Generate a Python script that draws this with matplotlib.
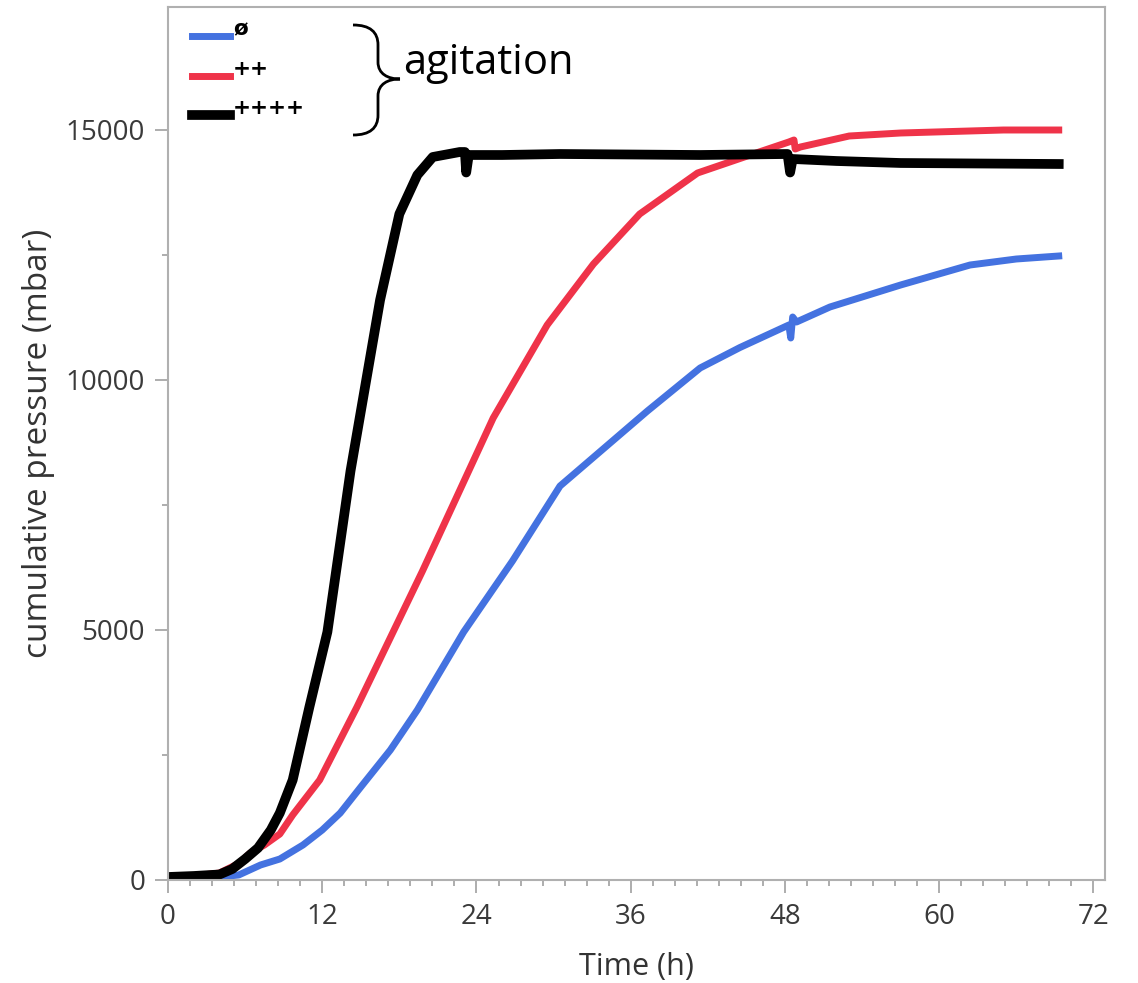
import numpy as np
import matplotlib
matplotlib.use('Agg')
import matplotlib.pyplot as plt
from matplotlib.path import Path
from matplotlib.patches import PathPatch
from matplotlib.transforms import Affine2D
from matplotlib.ticker import FixedLocator, MultipleLocator

# data (time in h, cumulative pressure in mbar)
t_none = [0, 2, 4, 5.5, 7.2, 8.7, 10.5, 12, 13.4, 15, 17.3, 19.4, 23, 26.8, 30.5,
          37.3, 41.4, 44.5, 48.3, 48.45, 48.6, 48.9, 51.5, 57, 62.4, 66, 69.3]
p_none = [50, 50, 60, 100, 300, 420, 700, 1000, 1340, 1860, 2600, 3400, 4960, 6380, 7880,
          9380, 10240, 10650, 11100, 10840, 11260, 11160, 11460, 11900, 12300, 12420, 12480]

t_2 = [0, 2, 4, 5.5, 6.4, 7.5, 8.7, 9.7, 11.8, 14.7, 19.8, 25.3, 29.5, 33.1, 36.7, 41.2, 45.3,
       48.3, 48.7, 48.8, 49.2, 53, 57, 61, 65, 69.3]
p_2 = [50, 80, 140, 330, 540, 700, 920, 1300, 2000, 3460, 6180, 9240, 11100, 12320, 13320, 14140, 14500,
       14760, 14800, 14620, 14660, 14880, 14940, 14970, 15000, 15000]

t_4 = [0, 2, 4, 5, 6, 7, 8, 8.7, 9.7, 11, 12.4, 14.2, 16.5, 18, 19.4, 20.6, 22.7,
       23.1, 23.2, 23.4, 26, 30.5, 36, 41.4, 48.2, 48.4, 48.6, 52, 57, 63, 69.3]
p_4 = [60, 80, 110, 220, 420, 640, 1000, 1340, 2000, 3460, 4960, 8180, 11600, 13320, 14100, 14460, 14560,
       14560, 14150, 14500, 14500, 14520, 14510, 14500, 14520, 14150, 14420, 14380, 14340, 14330, 14320]

labels = ['ø', '++', '++++']
colors = ['#4472e0', '#ef3349', '#000000']

W, H = 1138, 983
fig = plt.figure(figsize=(W / 100, H / 100), dpi=100)
ax = fig.add_axes([168 / W, 1 - 880 / H, (1105 - 168) / W, (880 - 7) / H])

ax.plot(t_none, p_none, color=colors[0], lw=5, solid_joinstyle='round', label=labels[0])
ax.plot(t_2, p_2, color=colors[1], lw=5, solid_joinstyle='round', label=labels[1])
ax.plot(t_4, p_4, color=colors[2], lw=7, solid_joinstyle='round', label=labels[2])

ax.set_xlim(0, 72.9)
ax.set_ylim(0, 17460)
ax.set_xticks([0, 12, 24, 36, 48, 60, 72])
ax.xaxis.set_minor_locator(FixedLocator(np.arange(0, 72.5, 12 / 7)))
ax.set_yticks([0, 5000, 10000, 15000])
ax.yaxis.set_minor_locator(MultipleLocator(2500))

tickfont = 'Open Sans'
for lab in ax.get_xticklabels() + ax.get_yticklabels():
    lab.set_family(tickfont)
ax.tick_params(which='major', length=9.5, width=1.2, color='#a0a0a0',
               labelsize=20, labelcolor='#3a3a3a', pad=7)
ax.tick_params(which='minor', length=4.5, width=1.2, color='#a0a0a0')
for s in ax.spines.values():
    s.set_color('#b0b0b0')
    s.set_linewidth(1.5)

ax.set_xlabel('Time (h)', fontsize=22, family=tickfont, color='#333333', labelpad=15)
ax.set_ylabel('cumulative pressure (mbar)', fontsize=24, family=tickfont, color='#333333', labelpad=8)

leg = ax.legend(loc='upper left', bbox_to_anchor=(0.005, 0.9985), frameon=False,
                handlelength=1.75, handletextpad=0.14, labelspacing=0.9,
                prop={'weight': 'bold', 'size': 15.5, 'family': 'DejaVu Sans'})
for t in leg.get_texts():
    t.set_y(8)

# brace + "agitation" annotation (pixel coords, y downwards)
verts = [(353, 25), (370, 25), (378, 32), (378, 45),
         (378, 62),
         (378, 74), (388, 79), (400, 79),
         (388, 79), (378, 84), (378, 96),
         (378, 115),
         (378, 128), (370, 135), (353, 135)]
codes = [Path.MOVETO, Path.CURVE4, Path.CURVE4, Path.CURVE4,
         Path.LINETO,
         Path.CURVE4, Path.CURVE4, Path.CURVE4,
         Path.CURVE4, Path.CURVE4, Path.CURVE4,
         Path.LINETO,
         Path.CURVE4, Path.CURVE4, Path.CURVE4]
brace = PathPatch(Path(verts, codes), facecolor='none', edgecolor='black', lw=2,
                  transform=Affine2D().scale(1, -1).translate(0, H))
fig.add_artist(brace)
fig.text(403 / W, 1 - 74 / H, 'agitation', fontsize=30, family='Open Sans',
         va='baseline', ha='left', color='black')

fig.savefig('out.png', dpi=100)
